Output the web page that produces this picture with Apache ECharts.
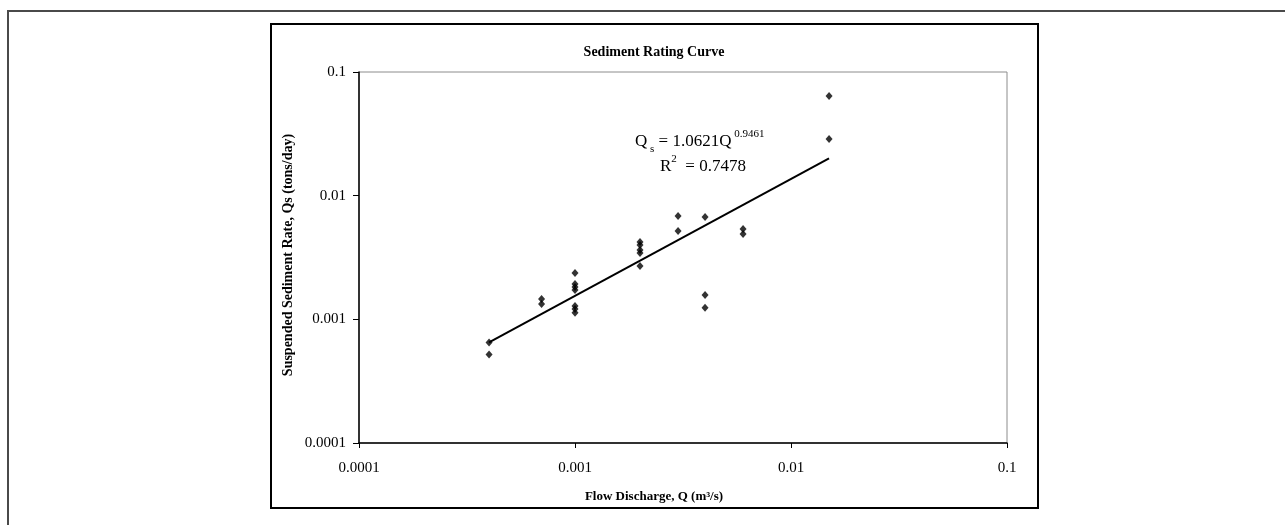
<!DOCTYPE html>
<html>
<head>
<meta charset="utf-8">
<script src="https://cdn.jsdelivr.net/npm/echarts@6/dist/echarts.min.js"></script>
<style>
html,body{margin:0;padding:0;background:#fff;}
#chart{width:1285px;height:525px;}
</style>
</head>
<body>
<div id="chart"></div>
<script>
// Observed data (flow discharge Q in m3/s, suspended sediment Qs in tons/day)
const flowQ = [0.0004, 0.0004, 0.0007, 0.0007,
  0.001, 0.001, 0.001, 0.001, 0.001, 0.001, 0.001,
  0.002, 0.002, 0.002, 0.002, 0.002,
  0.003, 0.003,
  0.004, 0.004, 0.004,
  0.006, 0.006,
  0.015, 0.015];
const sedQs = [0.00065, 0.00052, 0.00146, 0.00133,
  0.00237, 0.00193, 0.00183, 0.00173, 0.00128, 0.00121, 0.00113,
  0.00423, 0.00399, 0.00364, 0.00344, 0.0027,
  0.00686, 0.00519,
  0.00673, 0.00157, 0.00124,
  0.00538, 0.0049,
  0.064, 0.0287];
// Power trendline end points
const trendQ = [0.0004, 0.015];
const trendQs = [0.00065, 0.020];
// Tick labels (decades)
const xTickLabels = ['0.0001', '0.001', '0.01', '0.1'];
const yTickLabels = ['0.0001', '0.001', '0.01', '0.1'];
const titleText = 'Sediment Rating Curve';
const xName = 'Flow Discharge, Q (m³/s)';
const yName = 'Suspended Sediment Rate, Qs (tons/day)';

const serif = '"Liberation Serif", "Times New Roman", "DejaVu Serif", serif';
const scatterData = flowQ.map((q, i) => [q, sedQs[i]]);
const trendData = trendQ.map((q, i) => [q, trendQs[i]]);
function decadeLabel(arr) {
  return function (v) {
    const k = Math.round(Math.log10(v)) + 4;
    return arr[k] !== undefined ? arr[k] : '';
  };
}

const chart = echarts.init(document.getElementById('chart'), null, {renderer: 'canvas'});
chart.setOption({
  backgroundColor: '#fff',
  animation: false,
  grid: {
    left: 359, top: 72, width: 648, height: 371,
    containLabel: false, outerBoundsMode: 'none',
    show: true, borderColor: '#8c8c8c', borderWidth: 1, backgroundColor: 'transparent'
  },
  xAxis: {
    type: 'log', logBase: 10, min: 0.0001, max: 0.1,
    axisLine: {show: true, onZero: false, lineStyle: {color: '#000', width: 1.5}},
    axisTick: {show: true, inside: false, length: 5, lineStyle: {color: '#000', width: 1}},
    minorTick: {show: false},
    splitLine: {show: false},
    axisLabel: {formatter: decadeLabel(xTickLabels), color: '#000', fontFamily: serif, fontSize: 15, margin: 18}
  },
  yAxis: {
    type: 'log', logBase: 10, min: 0.0001, max: 0.1,
    axisLine: {show: true, onZero: false, lineStyle: {color: '#000', width: 1.5}},
    axisTick: {show: true, inside: false, length: 6, lineStyle: {color: '#000', width: 1}},
    minorTick: {show: false},
    splitLine: {show: false},
    axisLabel: {formatter: decadeLabel(yTickLabels), color: '#000', fontFamily: serif, fontSize: 15, margin: 13}
  },
  series: [
    {
      type: 'line', data: trendData, showSymbol: false, symbol: 'none',
      lineStyle: {color: '#000', width: 2}, z: 2, silent: true
    },
    {
      type: 'scatter', data: scatterData, symbol: 'diamond', symbolSize: [7, 8],
      itemStyle: {color: '#000'}, z: 3
    }
  ],
  graphic: [
    {type: 'rect', silent: true, z: -10, shape: {x: 8, y: 11, width: 1300, height: 600},
     style: {fill: '#fff', stroke: '#4a4a4a', lineWidth: 2}},
    {type: 'rect', silent: true, z: -9, shape: {x: 271, y: 24, width: 767, height: 484},
     style: {fill: '#fff', stroke: '#000', lineWidth: 2}},
    {type: 'text', silent: true, style: {x: 654, y: 52, text: titleText, align: 'center', verticalAlign: 'middle',
      font: 'bold 14px ' + serif, fill: '#000'}},
    {type: 'text', silent: true, style: {x: 654, y: 497, align: 'center', verticalAlign: 'middle',
      text: xName, font: 'bold 13px ' + serif, fill: '#000'}},
    {type: 'text', silent: true, x: 288, y: 255, rotation: Math.PI / 2,
     style: {x: 0, y: 0, text: yName, align: 'center', verticalAlign: 'middle',
      font: 'bold 14px ' + serif, fill: '#000'}},
    {type: 'text', silent: true, style: {x: 635, y: 142, align: 'left', verticalAlign: 'middle',
      text: '{m|Q}{sub| s}{m| = 1.0621Q}{sup| 0.9461}',
      rich: {
        m: {fontFamily: serif, fontSize: 17, lineHeight: 26, verticalAlign: 'middle', fill: '#000'},
        sub: {fontFamily: serif, fontSize: 11, lineHeight: 12, verticalAlign: 'bottom', fill: '#000'},
        sup: {fontFamily: serif, fontSize: 11, lineHeight: 12, verticalAlign: 'top', fill: '#000'}
      }}},
    {type: 'text', silent: true, style: {x: 660, y: 167, align: 'left', verticalAlign: 'middle',
      text: '{m|R}{sup|2}{m|  = 0.7478}',
      rich: {
        m: {fontFamily: serif, fontSize: 17, lineHeight: 26, verticalAlign: 'middle', fill: '#000'},
        sup: {fontFamily: serif, fontSize: 11, lineHeight: 12, verticalAlign: 'top', fill: '#000'}
      }}}
  ]
});
</script>
</body>
</html>
